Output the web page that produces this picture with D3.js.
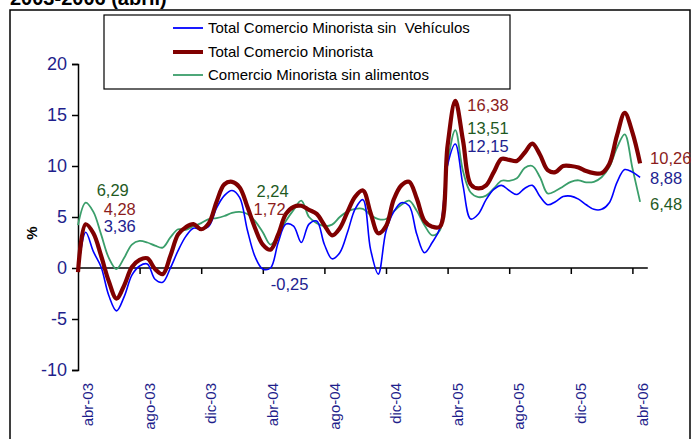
<!DOCTYPE html>
<html><head><meta charset="utf-8">
<script src="https://cdn.jsdelivr.net/npm/d3@7"></script>
<style>body{margin:0;background:#fff}svg{display:block;font-family:Arial,"Liberation Sans",sans-serif}</style>
</head><body>
<svg id="c" width="695" height="439"></svg>
<script>
// half-month periods from abr-03 to mid abr-06
const monthNames = ["abr-03","may-03","jun-03","jul-03","ago-03","sep-03","oct-03","nov-03","dic-03","ene-04","feb-04","mar-04","abr-04","may-04","jun-04","jul-04","ago-04","sep-04","oct-04","nov-04","dic-04","ene-05","feb-05","mar-05","abr-05","may-05","jun-05","jul-05","ago-05","sep-05","oct-05","nov-05","dic-05","ene-06","feb-06","mar-06","abr-06"];
const periods = [];
monthNames.forEach(m => { periods.push("1 " + m); periods.push("15 " + m); });
const tickLabels = ["abr-03","ago-03","dic-03","abr-04","ago-04","dic-04","abr-05","ago-05","dic-05","abr-06"];
const yTicks = [-10,-5,0,5,10,15,20];

const sinVehiculos = [-0.2,3.5,1.6,0.1,-2.7,-4.2,-2.8,-0.7,0.2,0.4,-1.1,-1.4,0.0,1.7,3.1,3.9,3.8,4.1,5.9,7.1,7.6,6.9,3.7,1.1,-0.1,0.0,2.5,4.3,4.1,2.5,4.3,4.6,2.3,0.9,1.5,3.5,5.8,6.7,1.8,-0.6,3.6,5.5,6.4,6.1,3.3,1.5,2.5,3.9,10.1,12.15,8.1,4.8,5.3,6.7,7.7,8.1,7.6,7.2,7.8,8.1,7.0,6.2,6.5,7.0,7.05,6.75,6.2,5.75,5.75,6.4,8.4,9.65,9.4,8.88];
const totalMinorista = [-0.4,4.28,3.4,1.2,-1.3,-3.0,-1.7,0.1,0.8,0.95,-0.1,-0.6,1.2,3.3,4.0,4.3,3.8,4.4,6.5,8.2,8.45,7.9,6.0,3.9,2.3,1.8,3.3,5.3,6.0,6.1,5.7,5.3,4.2,3.2,3.9,5.5,7.0,7.6,5.4,3.4,4.1,6.7,8.1,8.45,6.8,4.6,4.05,4.05,12.0,16.38,12.5,8.2,7.8,8.1,9.4,10.7,10.6,10.5,11.3,12.2,11.1,9.6,9.4,10.0,10.0,9.85,9.5,9.3,9.3,10.2,13.0,15.2,13.3,10.26];
const sinAlimentos = [4.2,6.4,5.5,3.3,1.0,-0.1,1.0,2.3,2.65,2.5,2.2,2.0,3.0,3.8,3.75,4.1,4.4,4.8,4.9,5.1,5.4,5.5,5.3,4.6,3.5,2.3,3.2,4.6,5.7,6.6,5.0,4.4,4.1,4.25,5.0,5.55,5.8,5.8,5.2,4.8,4.8,5.55,6.2,6.6,5.6,4.2,3.2,3.7,10.3,13.51,9.5,7.4,6.95,7.1,7.8,8.55,8.55,8.8,9.8,10.0,8.9,7.3,7.55,8.0,8.45,8.6,8.4,8.45,8.9,9.9,11.8,13.1,9.8,6.48];

const seriesNames = ["Total Comercio Minorista sin  Vehículos","Total Comercio Minorista","Comercio Minorista sin alimentos"];
const annotations = [
  {t:"6,29", s:2, i:1, dx:11, y:196},
  {t:"4,28", s:1, i:1, dx:18, y:215},
  {t:"3,36", s:0, i:1, dx:18, y:232},
  {t:"2,24", s:2, i:25, dx:-14, y:197},
  {t:"1,72", s:1, i:25, dx:-17, y:215},
  {t:"-0,25", s:0, i:24, dx:8, y:290},
  {t:"16,38", s:1, i:49, dx:12, y:111},
  {t:"13,51", s:2, i:49, dx:12, y:134},
  {t:"12,15", s:0, i:49, dx:12, y:152},
  {t:"10,26", s:1, i:73, dx:10, y:164},
  {t:"8,88", s:0, i:73, dx:10, y:184},
  {t:"6,48", s:2, i:73, dx:10, y:210}
];

const lineColors = ["#0000ff","#800000","#3a9e6a"];
const lineWidths = [1.6,4.2,1.8];
const textColors = ["#22228f","#8b1c1c","#1f5a1f"];
const navy = "#1f1f8c";

const svg = d3.select("#c");
const x = d3.scaleLinear().domain([0, 74]).range([78, 647.8]);
const y = d3.scaleLinear().domain([-10, 20]).range([370, 64]);

// outer frame
svg.append("rect").attr("x",10).attr("y",10).attr("width",680).attr("height",460)
  .attr("fill","none").attr("stroke","#000").attr("stroke-width",1.5);

// title (cut off at top, as in the reference)
svg.append("text").attr("x",10).attr("y",5).attr("font-size",20).attr("font-weight","bold")
  .attr("fill","#000").text("2003-2006 (abril)");

// y axis
const yAxis = svg.append("g").attr("transform","translate(78,0)")
  .call(d3.axisLeft(y).tickValues(yTicks).tickSize(6).tickFormat(d3.format("d")));
yAxis.select(".domain").attr("stroke","#000").attr("stroke-width",1.5);
yAxis.selectAll(".tick line").attr("stroke","#000").attr("stroke-width",1.5);
yAxis.selectAll(".tick text").attr("font-size",18).attr("fill",navy).attr("x",-11)
  .attr("font-family","Arial, 'Liberation Sans', sans-serif").text(d => d < 0 ? "-" + Math.abs(d) : d);

svg.append("text").attr("transform","translate(37,233) rotate(-90)").attr("text-anchor","middle")
  .attr("font-size",15).attr("font-weight","bold").attr("fill","#000").text("%");

// x axis at zero
const tickIdx = tickLabels.map((d,k) => k*8);
const xAxis = svg.append("g").attr("transform",`translate(0,${y(0)})`)
  .call(d3.axisBottom(x).tickValues(tickIdx.filter(d=>d>0)).tickSize(6).tickFormat(""));
xAxis.select(".domain").attr("stroke","#000").attr("stroke-width",1.5).attr("d",`M${x(0)},0H${x(74)}`);
xAxis.selectAll(".tick line").attr("stroke","#000").attr("stroke-width",1.5);

svg.append("g").selectAll("text").data(tickLabels).join("text")
  .attr("transform",(d,k) => `translate(${x(k*8+1.3)},383) rotate(-90)`)
  .attr("text-anchor","end").attr("dy","0.35em").attr("font-size",15).attr("fill",navy)
  .text(d => d);

// lines
const allSeries = [sinVehiculos, totalMinorista, sinAlimentos];
const line = d3.line().x((d,i)=>x(i)).y(d=>y(d)).curve(d3.curveCatmullRom.alpha(0.5));
const order = [2,0,1];
order.forEach(s => {
  svg.append("path").datum(allSeries[s]).attr("d",line).attr("fill","none")
    .attr("stroke",lineColors[s]).attr("stroke-width",lineWidths[s]).attr("stroke-linejoin","round");
});

// annotations
svg.append("g").selectAll("text").data(annotations).join("text")
  .attr("x",d => x(d.i)+d.dx).attr("y",d=>d.y).attr("font-size",16.5)
  .attr("fill",d=>textColors[d.s]).text(d=>d.t);

// legend
const lg = svg.append("g");
lg.append("rect").attr("x",104).attr("y",15).attr("width",406).attr("height",74)
  .attr("fill","#fff").attr("stroke","#000").attr("stroke-width",1.2);
const ly = [28,52,75];
seriesNames.forEach((n,k) => {
  lg.append("line").attr("x1",173).attr("x2",203).attr("y1",ly[k]).attr("y2",ly[k])
    .attr("stroke",lineColors[k]).attr("stroke-width",k===1?4:1.8);
  lg.append("text").attr("x",208).attr("y",ly[k]).attr("dy","0.35em").attr("font-size",15)
    .attr("fill","#000").attr("xml:space","preserve").style("white-space","pre").text(n);
});
</script>
</body></html>
